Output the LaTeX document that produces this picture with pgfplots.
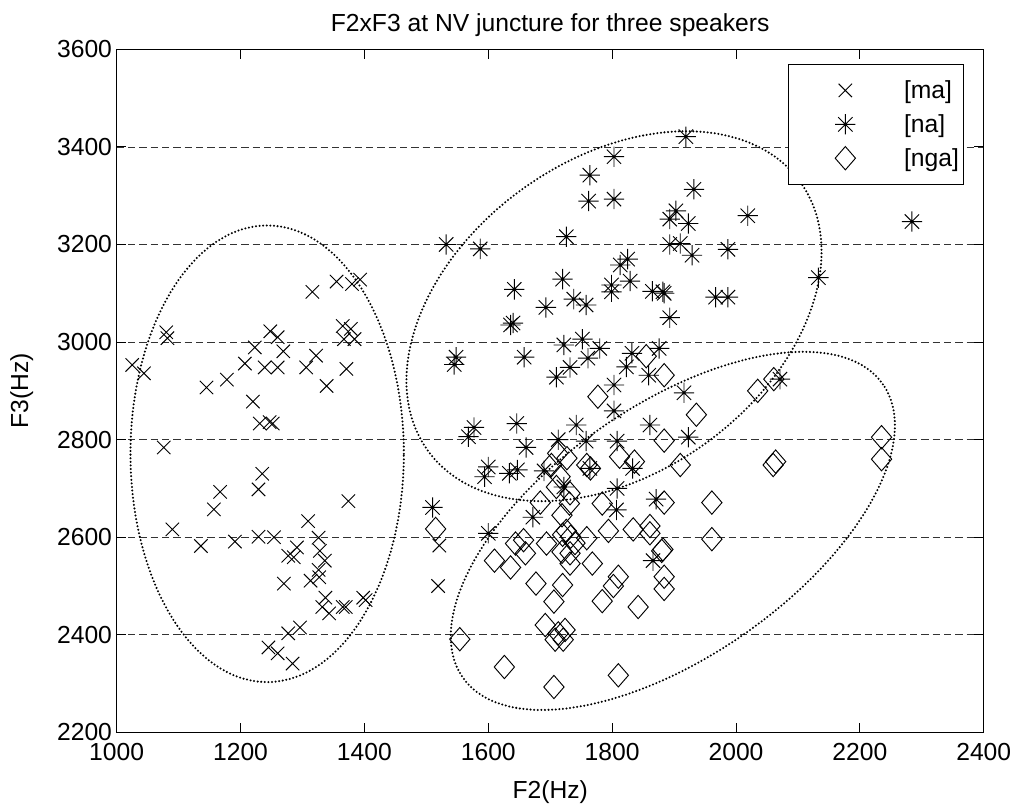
\documentclass[border=0pt]{standalone}
\usepackage{pgfplots}
\pgfplotsset{compat=1.18}
\usepackage{fontspec}
\setmainfont{Liberation Sans}

\pgfdeclareplotmark{mstar}{%
  \pgfpathmoveto{\pgfqpoint{-\pgfplotmarksize}{0pt}}%
  \pgfpathlineto{\pgfqpoint{\pgfplotmarksize}{0pt}}%
  \pgfpathmoveto{\pgfqpoint{0pt}{-\pgfplotmarksize}}%
  \pgfpathlineto{\pgfqpoint{0pt}{\pgfplotmarksize}}%
  \pgfpathmoveto{\pgfqpoint{-.7071\pgfplotmarksize}{-.7071\pgfplotmarksize}}%
  \pgfpathlineto{\pgfqpoint{.7071\pgfplotmarksize}{.7071\pgfplotmarksize}}%
  \pgfpathmoveto{\pgfqpoint{-.7071\pgfplotmarksize}{.7071\pgfplotmarksize}}%
  \pgfpathlineto{\pgfqpoint{.7071\pgfplotmarksize}{-.7071\pgfplotmarksize}}%
  \pgfusepathqstroke}
\pgfdeclareplotmark{mdiamond}{%
  \pgfpathmoveto{\pgfqpoint{0pt}{\pgfplotmarksize}}%
  \pgfpathlineto{\pgfqpoint{.87\pgfplotmarksize}{0pt}}%
  \pgfpathlineto{\pgfqpoint{0pt}{-\pgfplotmarksize}}%
  \pgfpathlineto{\pgfqpoint{-.87\pgfplotmarksize}{0pt}}%
  \pgfpathclose\pgfusepathqstroke}

\pgfplotstableread{
x y
1025 2953
1044 2936
1080 3020
1082 3008
1076 2784
1145 2907
1178 2923
1207 2956
1223 2989
1220 2878
1239 2948
1248 3022
1260 3010
1269 2981
1260 2948
1231 2833
1247 2836
1252 2833
1306 2948
1322 2972
1316 3103
1339 2910
1355 3124
1380 3119
1393 3128
1365 3033
1378 3027
1367 3006
1384 3006
1371 2945
1235 2730
1229 2698
1167 2693
1157 2657
1090 2616
1136 2582
1191 2591
1229 2601
1254 2600
1374 2674
1309 2633
1326 2599
1291 2579
1277 2562
1286 2559
1328 2572
1336 2552
1326 2533
1327 2518
1313 2511
1270 2505
1337 2476
1332 2457
1343 2444
1365 2457
1370 2457
1398 2476
1402 2471
1277 2403
1296 2415
1245 2374
1260 2362
1284 2341
1521 2583
1519 2500
}\ma

\pgfplotstableread{
x y
1532 3200
1587 3191
1726 3216
1803 3380
1764 3342
1762 3289
1803 3293
1919 3421
1932 3313
1903 3269
1893 3252
1923 3243
1893 3200
1910 3202
1929 3178
1642 3108
1720 3129
1693 3071
1738 3088
1758 3076
1799 3117
1799 3103
1813 3158
1825 3170
1829 3125
1865 3104
1882 3103
1884 3100
1893 3050
1967 3092
1987 3092
2019 3259
1987 3190
2133 3132
2284 3247
1636 3035
1640 3039
1722 2994
1752 3006
1780 2987
1548 2969
1545 2954
1658 2969
1761 2967
1732 2948
1710 2928
1803 2912
1803 2859
1577 2825
1568 2806
1646 2833
1661 2784
1713 2800
1742 2830
1758 2797
1808 2797
1600 2744
1594 2724
1634 2731
1647 2738
1690 2736
1722 2703
1764 2741
1808 2700
1807 2656
1510 2661
1672 2641
1600 2608
1832 2977
1876 2987
1823 2949
1859 2932
1916 2896
1861 2830
1923 2805
1833 2741
2071 2924
1871 2678
1866 2552
}\na

\pgfplotstableread{
x y
1515 2617
1777 2888
1812 2765
1727 2762
1712 2772
1759 2748
1765 2741
1702 2748
1716 2724
1710 2703
1732 2690
1731 2669
1684 2671
1719 2645
1784 2669
1794 2613
1657 2594
1644 2587
1694 2587
1720 2605
1726 2613
1733 2601
1740 2588
1759 2598
1610 2552
1636 2538
1660 2567
1677 2505
1720 2502
1706 2468
1719 2570
1732 2567
1732 2546
1768 2546
1784 2469
1692 2420
1713 2403
1724 2410
1708 2390
1721 2390
1554 2391
1626 2334
1706 2293
1810 2317
1855 2971
1884 2932
1936 2851
1884 2798
1836 2755
1910 2748
2035 2900
2061 2924
2064 2755
2060 2748
1884 2671
1961 2671
1834 2616
1861 2623
1861 2608
1961 2596
1880 2572
1882 2575
1810 2519
1802 2500
1884 2519
1884 2494
1842 2457
2235 2805
2235 2760
}\nga

\begin{document}
\begin{tikzpicture}
\begin{axis}[
  scale only axis,
  width=650.25pt, height=512.25pt,
  xmin=1000, xmax=2400, ymin=2200, ymax=3600,
  xtick={1000,1200,...,2400},
  ytick={2200,2400,...,3600},
  axis line style={line width=0.75pt},
  tick style={line width=0.75pt, black},
  tick align=inside,
  major tick length=7.2pt,
  ymajorgrids,
  grid style={dash pattern=on 5.5pt off 3pt, black!80, line width=0.6pt},
  /pgf/number format/assume math mode=true,
  /pgf/number format/1000 sep={},
  font=\fontsize{18.5}{22}\selectfont,
  ticklabel style={font=\fontsize{18.5}{22}\selectfont},
  xticklabel shift=4.5pt,
  title={F2xF3 at NV juncture for three speakers},
  xlabel={F2(Hz)},
  ylabel={F3(Hz)},
  xlabel shift=8pt,
  ylabel shift=11pt,
  legend cell align=left,
  legend style={at={(0.9773,0.9785)}, anchor=north east,
    draw=black, line width=0.75pt, inner xsep=1.5pt, inner ysep=10pt,
    row sep=6.5pt,
    font=\fontsize{18.5}{22}\selectfont},
  legend image code/.code={\path[draw=none] (0pt,0pt) -- (83pt,0pt); \draw[#1] plot coordinates {(41pt,0pt)};},
]
\addplot[only marks, mark=x, mark size=7.1pt, line width=0.7pt, black] table {\ma};
\addlegendentry{[ma]}
\addplot[only marks, mark=mstar, mark size=7.6pt, line width=0.7pt, black] table {\na};
\addlegendentry{[na]}
\addplot[only marks, mark=mdiamond, mark size=8.75pt, line width=0.7pt, black] table {\nga};
\addlegendentry{[nga]}

\draw[line width=1.7pt, dash pattern=on 0pt off 2.7pt, line cap=round]
  (axis cs:1243,2771) ellipse [x radius=102.5pt, y radius=171.2pt];
\draw[line width=1.7pt, dash pattern=on 0pt off 2.7pt, line cap=round,
  rotate around={35.85:(axis cs:1803,3053)}]
  (axis cs:1803,3053) ellipse [x radius=172.2pt, y radius=117.5pt];
\draw[line width=1.7pt, dash pattern=on 0pt off 2.7pt, line cap=round,
  rotate around={34.9:(axis cs:1898,2613)}]
  (axis cs:1898,2613) ellipse [x radius=192.1pt, y radius=94.1pt];
\end{axis}
\pgfresetboundingbox
\path ([shift={(-87.5pt,-54.5pt)}]current axis.south west) rectangle ([shift={(24.2pt,37pt)}]current axis.north east);
\end{tikzpicture}
\end{document}
